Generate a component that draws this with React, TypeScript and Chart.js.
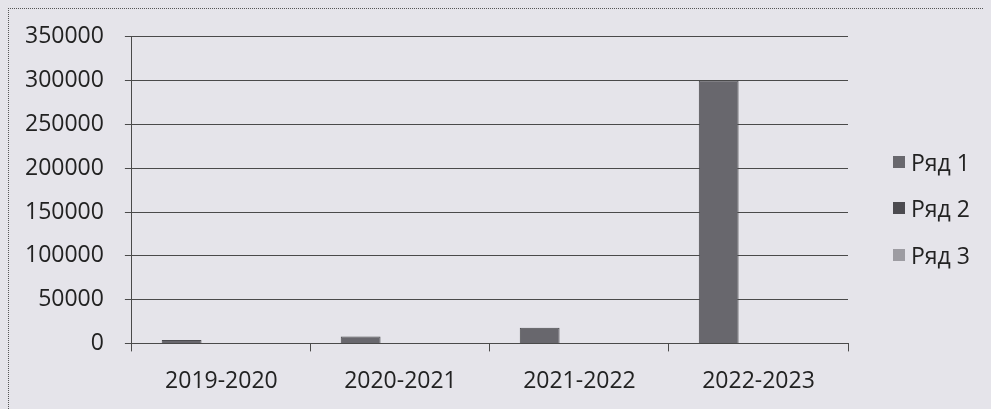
import React, { useEffect, useRef } from "react";
import { Chart, registerables } from "chart.js";

Chart.register(...registerables);

const categories = ["2019-2020", "2020-2021", "2021-2022", "2022-2023"];
const seriesNames = ["Ряд 1", "Ряд 2", "Ряд 3"];
const series1 = [4000, 8000, 18000, 300000];
const series2 = [0, 0, 0, 0];
const series3 = [0, 0, 0, 0];
const seriesColors = ["#68676d", "#4c4b50", "#9d9ca2"];
const yMax = 350000;
const yStep = 50000;

const FONT = "'Open Sans', 'Liberation Sans', sans-serif";

export default function App() {
  const ref = useRef<HTMLCanvasElement | null>(null);

  useEffect(() => {
    document.body.style.background = "#e5e4ea";
    document.documentElement.style.background = "#e5e4ea";
    document.documentElement.style.overflow = "hidden";
    document.body.style.overflow = "hidden";
    const canvas = ref.current;
    if (!canvas) return;
    const values = [series1, series2, series3];
    const chart = new Chart(canvas, {
      type: "bar",
      data: {
        labels: categories,
        datasets: seriesNames.map((name, i) => ({
          label: name,
          data: values[i],
          backgroundColor: seriesColors[i],
          borderColor: "#4a4a4e",
          borderWidth: i === 0 ? 1 : 0,
          categoryPercentage: 0.667,
          barPercentage: 1.0,
        })),
      },
      options: {
        responsive: false,
        animation: false,
        layout: { padding: { left: 0, top: 16, right: 138, bottom: 0 } },
        plugins: {
          legend: { display: false },
          tooltip: { enabled: false },
        },
        scales: {
          x: {
            offset: true,
            grid: {
              display: true,
              offset: true,
              drawOnChartArea: false,
              drawTicks: true,
              tickLength: 8,
              color: "#4a4a4a",
            },
            border: { display: true, color: "#4a4a4a" },
            ticks: {
              color: "#222",
              font: { family: FONT, size: 23 },
              padding: 16,
              maxRotation: 0,
            },
          },
          y: {
            min: 0,
            max: yMax,
            grid: {
              color: "#4a4a4a",
              tickLength: 7,
              drawTicks: true,
            },
            border: { display: true, color: "#4a4a4a" },
            ticks: {
              stepSize: yStep,
              color: "#222",
              font: { family: FONT, size: 23 },
              padding: 21,
              callback: (v: any) => String(v),
            },
          },
        },
      },
    });
    return () => chart.destroy();
  }, []);

  const rowTops = [153, 199, 246];

  return (
    <div
      style={{
        position: "relative",
        width: 983,
        height: 401,
        boxSizing: "border-box",
        borderTop: "1px dotted #555",
        borderLeft: "1px dotted #555",
      }}
    >
      <canvas
        ref={ref}
        width={982}
        height={409}
        style={{ display: "block", position: "absolute", left: -5, top: -7 }}
      />
      {seriesNames.map((name, i) => (
        <div
          key={name}
          style={{
            position: "absolute",
            left: 884,
            top: rowTops[i] - 15,
            height: 30,
            display: "flex",
            alignItems: "center",
            fontFamily: FONT,
            fontSize: 23,
            color: "#222",
            whiteSpace: "nowrap",
          }}
        >
          <span
            style={{
              display: "inline-block",
              width: 12,
              height: 12,
              background: seriesColors[i],
              marginRight: 6,
            }}
          />
          {name}
        </div>
      ))}
    </div>
  );
}
